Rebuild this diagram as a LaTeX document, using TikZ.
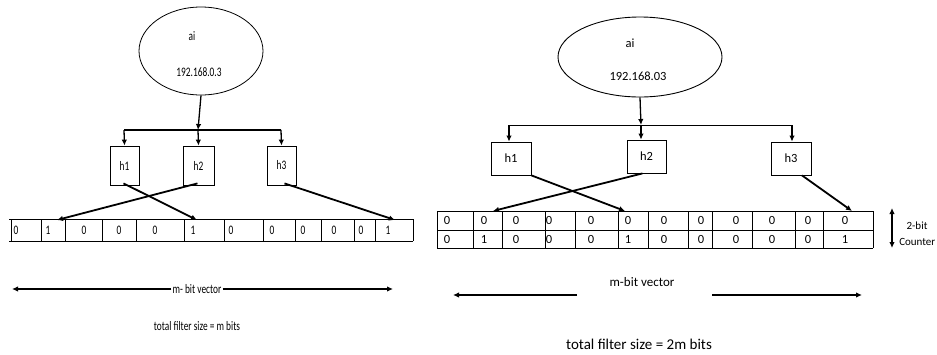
\documentclass[tikz,border=0pt]{standalone}
\usepackage{fontspec}
\setmainfont{Carlito}
\newfontfamily\condfont[FakeStretch=0.72]{Carlito}
\usetikzlibrary{arrows.meta,shapes.geometric,calc}
\begin{document}
\begin{tikzpicture}[x=1pt,y=-1pt,
  thin line/.style={line width=0.9pt},
  bold arrow/.style={line width=1.8pt,-{Latex[length=6pt,width=5.5pt]}},
  tree arrow/.style={line width=1.3pt,-{Latex[length=6pt,width=5.5pt]}},
  hbox/.style={draw,line width=0.8pt,inner sep=0pt},
  lt/.style={font=\condfont\fontsize{13}{15}\selectfont,inner sep=0pt},
  rt/.style={font=\fontsize{12.5}{14}\selectfont,inner sep=0pt}]
\useasboundingbox (0,0) rectangle (937,354);

% ---------------- LEFT DIAGRAM ----------------
\node[draw,ellipse,line width=0.8pt,minimum width=124pt,minimum height=88pt,inner sep=0pt] (eL) at (201,51) {};
\node[lt] (aiL) at (192,36) {ai};
\node[lt] (ipL) at (199,72) {192.168.0.3};

\node[hbox,minimum width=29pt,minimum height=39pt,lt] (h1L) at (124.5,165.5) {h1};
\node[hbox,minimum width=31pt,minimum height=39pt,lt] (h2L) at (198.5,165.5) {h2};
\node[hbox,minimum width=29pt,minimum height=39pt,lt] (h3L) at (281.5,165.5) {h3};

\coordinate (jL) at (198,130);
\coordinate (jL1) at (124,130);
\coordinate (jL3) at (281,130);
\draw[tree arrow] (eL.south) -- (jL);
\draw[line width=1.3pt] (jL1) -- (jL3);
\draw[tree arrow] (jL1) -- (h1L.north);
\draw[tree arrow] (jL) -- (h2L.north);
\draw[tree arrow] (jL3) -- (h3L.north);

% bit array
\draw[thin line] (9,219) -- (413,219);
\draw[thin line] (9,241) -- (413,241);
\foreach \x in {11,41,65,102,136,184,224,263,295,321,354,375,413}
  \draw[thin line] (\x,219) -- (\x,241);
\foreach \x/\v [count=\i] in {16/0,48/1,84/0,119/0,155/0,193/1,231/0,272/0,303/0,334/0,361/0,388/1}
  \node[lt] (bL\i) at (\x,230.5) {\v};

\coordinate (tL1) at (197,220);
\coordinate (tL2) at (57,220);
\coordinate (tL3) at (395,220);
\draw[bold arrow] ($(h1L.south)+(-1,-2)$) -- (tL1);
\draw[bold arrow] ($(h2L.south)+(-1,-2)$) -- (tL2);
\draw[bold arrow] ($(h3L.south)+(3,-2)$) -- (tL3);

% m-bit vector
\node[lt] (mvL) at (197,289) {m- bit vector};
\coordinate (mL1) at (12,289);
\coordinate (mL2) at (393,289);
\draw[bold arrow] ($(mvL.west)+(-1,0)$) -- (mL1);
\draw[bold arrow] ($(mvL.east)+(1,0)$) -- (mL2);
\node[lt] (tfL) at (197,326) {total filter size = m bits};

% ---------------- RIGHT DIAGRAM ----------------
\node[draw,ellipse,line width=0.9pt,minimum width=164pt,minimum height=80pt,inner sep=0pt] (eR) at (640,57) {};
\node[rt] (aiR) at (630,43) {ai};
\node[rt] (ipR) at (638,76) {192.168.03};

\node[hbox,minimum width=40pt,minimum height=33pt,rt] (h1R) at (511,158.5) {h1};
\node[hbox,minimum width=39pt,minimum height=33pt,rt] (h2R) at (646.5,156.5) {h2};
\node[hbox,minimum width=40pt,minimum height=33pt,rt] (h3R) at (791,158.5) {h3};

\coordinate (jR) at (641,125);
\coordinate (jR1) at (509,125);
\coordinate (jR3) at (792,125);
\draw[tree arrow] (eR.south) -- (jR);
\draw[line width=1pt] (jR1) -- (jR3);
\draw[tree arrow] (jR1) -- (h1R.north -| jR1);
\draw[tree arrow] (jR) -- (h2R.north -| jR);
\draw[tree arrow] (jR3) -- (h3R.north -| jR3);

% 2-row counter array
\draw[line width=1pt] (437,211) -- (873,211);
\draw[line width=1pt] (437,230) -- (873,230);
\draw[line width=1pt] (437,248) -- (873,248);
\foreach \x in {437,473,502,545,575,618,648,688,712,752,795,823,873}
  \draw[line width=1pt] (\x,211) -- (\x,248);
\foreach \x [count=\i] in {447,484,516,549,591,628,664,701,736,772,808,845}
  \node[rt] (cT\i) at (\x,220.5) {0};
\foreach \x/\v [count=\i] in {447/0,484/1,516/0,549/0,591/0,628/1,664/0,701/0,736/0,772/0,808/0,845/1}
  \node[rt] (cB\i) at (\x,239.5) {\v};

\coordinate (tR1) at (625,211);
\coordinate (tR2) at (493,211);
\coordinate (tR3) at (852,211);
\draw[bold arrow] (h1R.south east) -- (tR1);
\draw[bold arrow] ($(h2R.south)+(-4,0)$) -- (tR2);
\draw[bold arrow] ($(h3R.south)+(11,0)$) -- (tR3);

% 2-bit counter
\coordinate (cu) at (892,208);
\coordinate (cd) at (892,248);
\draw[line width=1.7pt,{Latex[length=6pt,width=5.5pt]}-{Latex[length=6pt,width=5.5pt]}] (cu) -- (cd);
\node[font=\fontsize{11}{13}\selectfont,inner sep=0pt] (c2b) at (917,226) {2-bit};
\node[font=\fontsize{11}{13}\selectfont,anchor=east,inner sep=0pt] (cnt) at (935.5,241.5) {Counter};

% m-bit vector
\node[rt,font=\fontsize{13}{15}\selectfont] (mvR) at (642,282) {m-bit vector};
\coordinate (mR1s) at (577,295);
\coordinate (mR1) at (453,295);
\coordinate (mR2s) at (712,295);
\coordinate (mR2) at (862,295);
\draw[bold arrow] (mR1s) -- (mR1);
\draw[bold arrow] (mR2s) -- (mR2);
\node[rt,font=\fontsize{15}{17}\selectfont,anchor=south] (tfR) at (639,349.5) {total filter size = 2m bits};
\end{tikzpicture}
\end{document}
